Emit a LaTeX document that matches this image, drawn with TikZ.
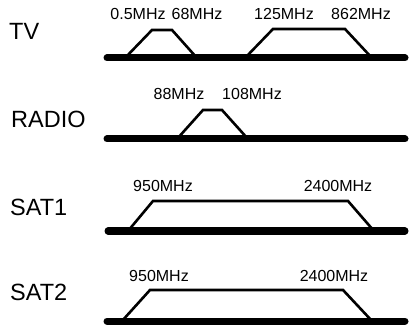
\documentclass[tikz,border=0pt]{standalone}
\usepackage{fontspec}
\setmainfont{Liberation Sans}
\begin{document}
\begin{tikzpicture}[x=1pt,y=-1pt,
  bar/.style={line width=7pt,line cap=round},
  band/.style={line width=2.6pt,line join=miter},
  freq/.style={font=\fontsize{16}{16}\selectfont,inner sep=0pt,anchor=base},
  title/.style={font=\fontsize{23.5}{24}\selectfont,inner sep=0pt,anchor=base west}]
\useasboundingbox (0,0) rectangle (410,326);
% TV
\node[title] (tv) at (9,40) {TV};
\coordinate (tvL) at (107,58); \coordinate (tvR) at (405,58);
\draw[band] (125,58) -- (152,30) -- (172,30) -- (197,58);
\draw[band] (245,58) -- (273,29) -- (345,29) -- (372,58);
\draw[bar] (tvL) -- (tvR);
\node[freq] (f1) at (138,20) {0.5MHz};
\node[freq] (f2) at (197,20) {68MHz};
\node[freq] (f3) at (284,20) {125MHz};
\node[freq] (f4) at (361,20) {862MHz};
% RADIO
\node[title] (radio) at (11,128) {RADIO};
\coordinate (raL) at (107,139); \coordinate (raR) at (405,139);
\draw[band] (177,139) -- (203,110) -- (222,110) -- (248,139);
\draw[bar] (raL) -- (raR);
\node[freq] (f5) at (179,100) {88MHz};
\node[freq] (f6) at (252,100) {108MHz};
% SAT1
\node[title] (sat1) at (10,215) {SAT1};
\coordinate (s1L) at (108,231); \coordinate (s1R) at (405,231);
\draw[band] (128,231) -- (153,201) -- (348,201) -- (374,231);
\draw[bar] (s1L) -- (s1R);
\node[freq] (f7) at (163,192) {950MHz};
\node[freq] (f8) at (338,192) {2400MHz};
% SAT2
\node[title] (sat2) at (10,300) {SAT2};
\coordinate (s2L) at (107,321); \coordinate (s2R) at (405,321);
\draw[band] (122,321) -- (150,290) -- (343,290) -- (372,321);
\draw[bar] (s2L) -- (s2R);
\node[freq] (f9) at (159,281) {950MHz};
\node[freq] (f10) at (334,281) {2400MHz};
\end{tikzpicture}
\end{document}
